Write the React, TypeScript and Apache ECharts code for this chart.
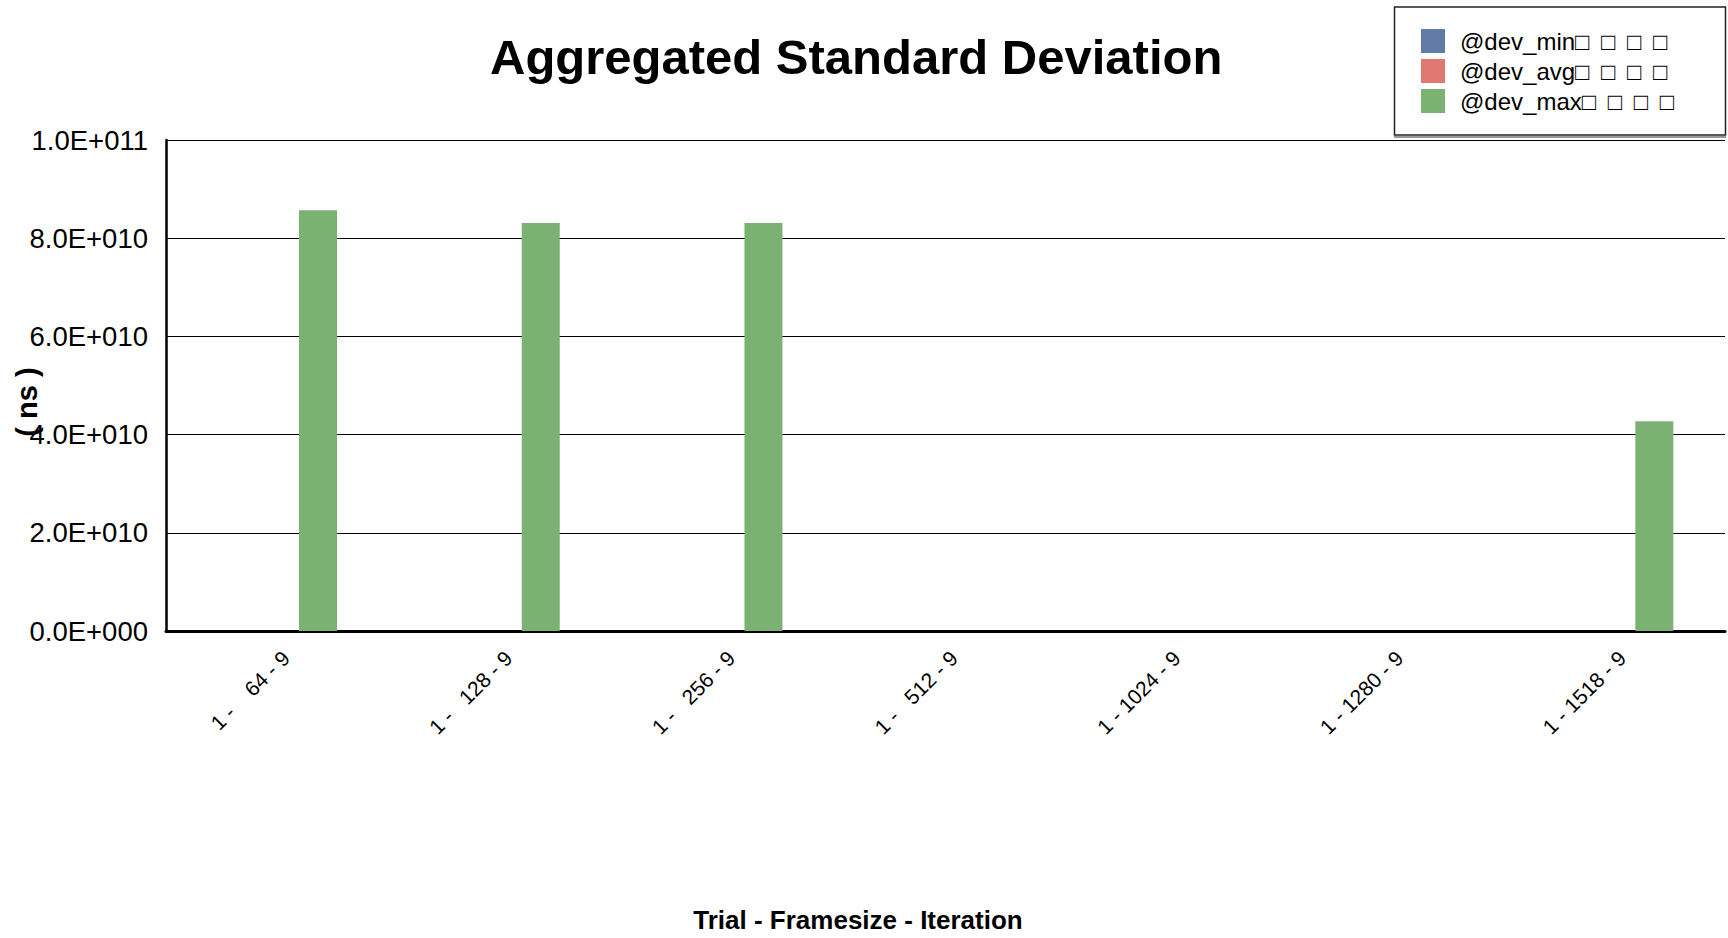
import React, { useEffect, useRef } from "react";
import * as echarts from "echarts";

const NB = "\u00a0";
const TS = "\u2009";
const categories = [
  `1 -${NB}${NB}${NB}${NB}64 - 9`,
  `1 -${NB}${NB}${NB}128 - 9`,
  `1 -${NB}${NB}${NB}256 - 9`,
  `1 -${NB}${NB}${NB}512 - 9`,
  "1 - 1024 - 9",
  "1 - 1280 - 9",
  "1 - 1518 - 9",
];
const devMin = [0, 0, 0, 0, 0, 0, 0];
const devAvg = [0, 0, 0, 0, 0, 0, 0];
const devMax = [8.57e10, 8.31e10, 8.31e10, 0, 0, 0, 4.27e10];
const tofu = `\u25a1${NB}${TS}\u25a1${NB}${TS}\u25a1${NB}${TS}\u25a1`;
const seriesNames = [`@dev_min${tofu}`, `@dev_avg${tofu}`, `@dev_max${tofu}`];
const yTickLabels = ["0.0E+000", "2.0E+010", "4.0E+010", "6.0E+010", "8.0E+010", "1.0E+011"];
const yStep = 2e10;

const FONT = "'Liberation Sans', Arial, sans-serif";

export default function App() {
  const ref = useRef<HTMLDivElement>(null);
  useEffect(() => {
    document.body.style.margin = "0";
    const chart = echarts.init(ref.current!, null, { renderer: "svg" });
    const colors = ["#5f7ba6", "#e07872", "#7bb274"];
    const mk = (name: string, data: number[], color: string) => ({
      name,
      type: "bar",
      data,
      barWidth: 38,
      barGap: "7%",
      itemStyle: { color },
    });
    chart.setOption({
      animation: false,
      textStyle: { fontFamily: FONT },
      title: {
        text: "Aggregated Standard Deviation",
        left: 490,
        top: 32,
        padding: 0,
        textStyle: { fontSize: 49, fontWeight: "bold", color: "#000", fontFamily: FONT },
      },
      legend: {
        orient: "vertical",
        left: 1421,
        top: 29,
        padding: 0,
        itemWidth: 24,
        itemHeight: 24,
        itemGap: 6,
        icon: "rect",
        selectedMode: false,
        textStyle: { fontSize: 24, color: "#000", fontFamily: FONT, padding: [0, 0, 0, 10] },
        data: seriesNames,
      },
      graphic: [
        {
          type: "rect",
          shape: { x: 1394.5, y: 7, width: 331, height: 128 },
          style: { fill: "none", stroke: "#222", lineWidth: 1.5 },
          z: 10,
        },
        {
          type: "line",
          shape: { x1: 1394, y1: 137, x2: 1726, y2: 137 },
          style: { stroke: "#999", lineWidth: 2 },
          z: 10,
        },
        {
          type: "text",
          x: 27,
          y: 402,
          rotation: Math.PI / 2,
          style: {
            text: "( ns )",
            fontSize: 29,
            fontWeight: "bold",
            fontFamily: FONT,
            fill: "#000",
            align: "center",
            verticalAlign: "middle",
          },
        },
        {
          type: "text",
          x: 858,
          y: 920,
          style: {
            text: "Trial - Framesize - Iteration",
            fontSize: 26,
            fontWeight: "bold",
            fontFamily: FONT,
            fill: "#000",
            align: "center",
            verticalAlign: "middle",
          },
        },
      ],
      grid: { left: 166, right: 3, top: 140, bottom: 307, containLabel: false },
      xAxis: {
        type: "category",
        data: categories,
        axisLine: { lineStyle: { color: "#000", width: 3 } },
        axisTick: { show: false },
        axisLabel: {
          rotate: 45,
          margin: 32,
          interval: 0,
          fontSize: 21,
          color: "#000",
          fontFamily: FONT,
          padding: [0, -12, 0, 0],
        },
      },
      yAxis: {
        type: "value",
        min: 0,
        max: 1e11,
        interval: yStep,
        axisLine: { show: true, lineStyle: { color: "#000", width: 2.5 } },
        axisTick: { show: false },
        splitLine: { lineStyle: { color: "#000", width: 1 } },
        axisLabel: {
          margin: 18,
          fontSize: 27.5,
          color: "#000",
          fontFamily: FONT,
          formatter: (v: number) => yTickLabels[Math.round(v / yStep)],
        },
      },
      series: [
        mk(seriesNames[0], devMin, colors[0]),
        mk(seriesNames[1], devAvg, colors[1]),
        mk(seriesNames[2], devMax, colors[2]),
      ],
    });
    return () => chart.dispose();
  }, []);
  return <div ref={ref} style={{ width: 1728, height: 938 }} />;
}
